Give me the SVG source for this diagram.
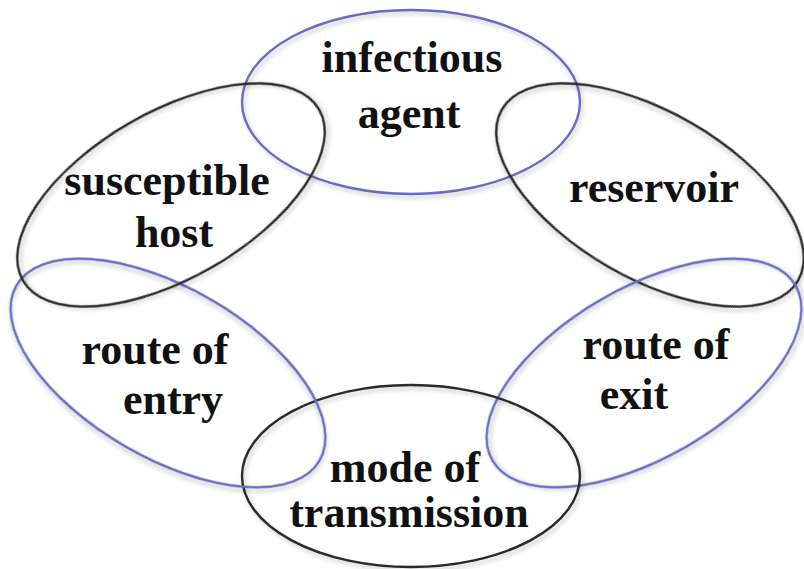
<svg xmlns="http://www.w3.org/2000/svg" width="804" height="569" viewBox="0 0 804 569">
<defs>
<filter id="sh" x="-10%" y="-10%" width="120%" height="120%">
<feDropShadow dx="2" dy="3" stdDeviation="2" flood-color="#000" flood-opacity="0.22"/>
</filter>
</defs>
<style>
.ring{fill:none;stroke-width:2.4;filter:url(#sh)}
.blue{stroke:#6a6ac4}
.black{stroke:#2a2a2a}
.lbl{font-family:"Liberation Serif","Times New Roman",serif;font-weight:bold;font-size:44px;fill:#111;text-anchor:middle}
</style>
<rect width="804" height="569" fill="#fff"/>
<g id="infectious-agent">
<ellipse class="ring blue" cx="411" cy="102" rx="169" ry="92"/>
<text class="lbl" x="412" y="72">infectious</text>
<text class="lbl" x="409" y="128">agent</text>
</g>
<g id="reservoir">
<ellipse class="ring black" cx="650" cy="195" rx="171" ry="83" transform="rotate(30 650 195)"/>
<text class="lbl" x="654" y="202">reservoir</text>
</g>
<g id="route-of-exit">
<ellipse class="ring blue" cx="644" cy="373" rx="175" ry="85" transform="rotate(-30 644 373)"/>
<text class="lbl" x="656" y="359">route of</text>
<text class="lbl" x="634" y="409">exit</text>
</g>
<g id="mode-of-transmission">
<ellipse class="ring black" cx="411" cy="476" rx="169" ry="91"/>
<text class="lbl" x="405" y="482">mode of</text>
<text class="lbl" x="409" y="527">transmission</text>
</g>
<g id="route-of-entry">
<ellipse class="ring blue" cx="168" cy="373" rx="175" ry="85" transform="rotate(30 168 373)"/>
<text class="lbl" x="155" y="364">route of</text>
<text class="lbl" x="173" y="414">entry</text>
</g>
<g id="susceptible-host">
<ellipse class="ring black" cx="171" cy="195" rx="171" ry="83" transform="rotate(-30 171 195)"/>
<text class="lbl" x="167" y="195">susceptible</text>
<text class="lbl" x="174" y="247">host</text>
</g>
<g id="connectors"></g>
</svg>
